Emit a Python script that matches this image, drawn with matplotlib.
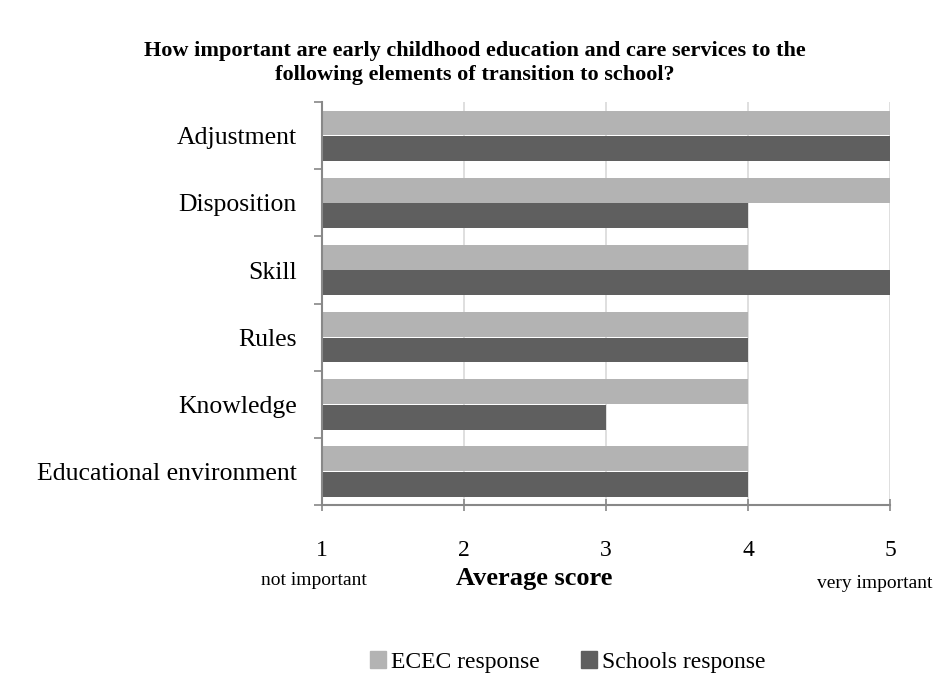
import numpy as np
import matplotlib.pyplot as plt
from matplotlib.patches import Patch

# Average scores per element of transition to school (bottom to top)
elements = ['Educational environment', 'Knowledge', 'Rules', 'Skill',
            'Disposition', 'Adjustment']
ecec_scores = [4, 4, 4, 4, 5, 5]
school_scores = [4, 3, 4, 5, 4, 5]
score_ticks = [1, 2, 3, 4, 5]

light = '#b3b3b3'
dark = '#5f5f5f'
serif = 'Liberation Serif'

fig = plt.figure(figsize=(9.35, 6.77), dpi=100)
ax = fig.add_axes([0.344, 0.254, 0.608, 0.595])

y = np.arange(len(elements))
h = 0.37
ax.barh(y + 0.19, ecec_scores, height=h, left=0, color=light, zorder=2)
ax.barh(y - 0.19, school_scores, height=h, left=0, color=dark, zorder=2)

ax.set_xlim(1, 5)
ax.set_ylim(-0.5, len(elements) - 0.5)

# vertical gridlines
ax.set_xticks(score_ticks)
ax.set_xticklabels([str(t) for t in score_ticks], fontsize=17, family=serif)
ax.xaxis.grid(True, color='#d9d9d9', linewidth=1.2, zorder=0)
ax.tick_params(axis='x', direction='inout', length=9, width=1.2,
               color='#888888', pad=21)

# category boundaries as ticks, labels centred on each category
ax.set_yticks(np.arange(-0.5, len(elements)), labels=[''] * (len(elements) + 1))
ax.tick_params(axis='y', which='major', direction='out', length=6, width=1.2,
               color='#888888')
ax.set_yticks(y, minor=True)
ax.set_yticklabels(elements, minor=True, fontsize=18.5, family=serif)
ax.tick_params(axis='y', which='minor', length=0, pad=18)

for side in ['top', 'right']:
    ax.spines[side].set_visible(False)
for side in ['left', 'bottom']:
    ax.spines[side].set_color('#888888')
    ax.spines[side].set_linewidth(1.5)
ax.set_axisbelow(True)

fig.text(0.508, 0.907,
         'How important are early childhood education and care services to the\n'
         'following elements of transition to school?',
         ha='center', va='center', fontsize=16, fontweight='bold',
         family=serif, linespacing=1.3)

fig.text(0.336, 0.142, 'not important', ha='center', va='center',
         fontsize=14, family=serif)
fig.text(0.997, 0.138, 'very important', ha='right', va='center',
         fontsize=14, family=serif)
fig.text(0.571, 0.146, 'Average score', ha='center', va='center',
         fontsize=19, fontweight='bold', family=serif)

handles = [Patch(color=light, label='ECEC response'),
           Patch(color=dark, label='Schools response')]
fig.legend(handles=handles, loc='center', bbox_to_anchor=(0.607, 0.022),
           ncol=2, frameon=False, prop={'family': serif, 'size': 17},
           handlelength=0.7, handleheight=0.7, handletextpad=0.2,
           columnspacing=1.75)

fig.savefig('out.png', dpi=100)
